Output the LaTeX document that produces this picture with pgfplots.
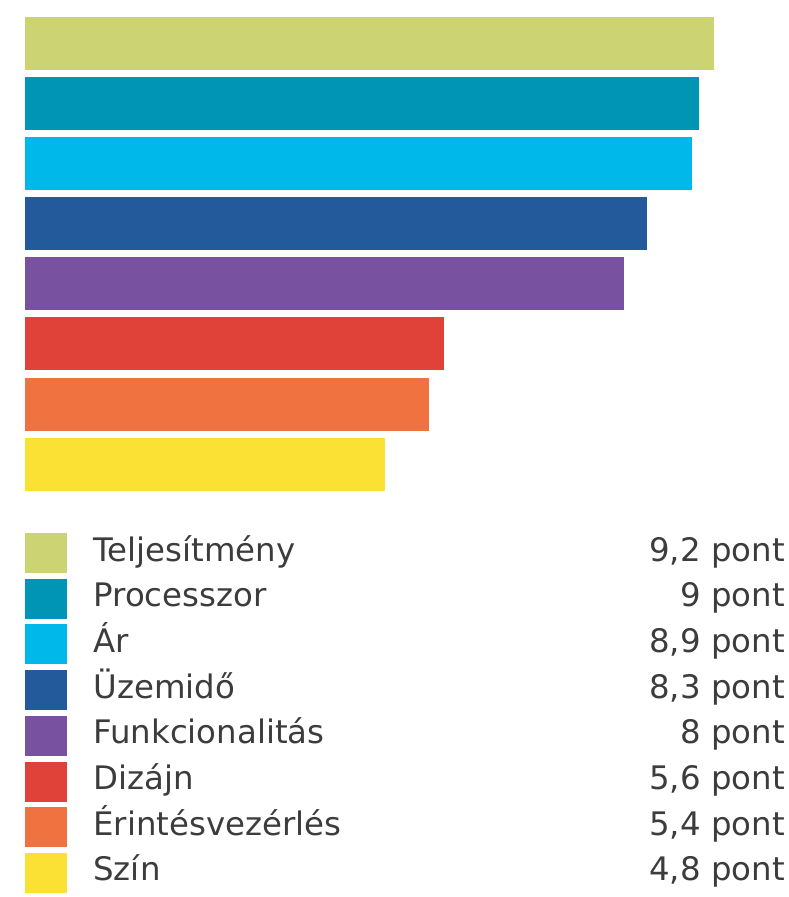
\documentclass[border=0pt]{standalone}
\usepackage{pgfplots}
\pgfplotsset{compat=1.18}
\usepackage{fontspec}
\setmainfont{DejaVu Sans}
\definecolor{c1}{HTML}{CCD373}
\definecolor{c2}{HTML}{0095B5}
\definecolor{c3}{HTML}{00B8EA}
\definecolor{c4}{HTML}{225A9C}
\definecolor{c5}{HTML}{7851A0}
\definecolor{c6}{HTML}{E0423A}
\definecolor{c7}{HTML}{F07240}
\definecolor{c8}{HTML}{FCE135}
\definecolor{txt}{HTML}{3C3C3C}
\tikzset{
  lab/.style={anchor=base west, font=\fontsize{16.2}{18}\selectfont, text=txt, inner sep=0pt},
  val/.style={anchor=base east, font=\fontsize{16.2}{18}\selectfont, text=txt, inner sep=0pt},
}
\begin{document}
\begin{tikzpicture}
\begin{axis}[
  hide axis, scale only axis, width=394pt, height=448.5pt,
  xmin=-0.3338, xmax=10.187, ymin=0, ymax=897, y dir=reverse,
  clip=false, xbar, bar shift=0pt,
]
% main bars
\addplot[fill=c1, draw=none, bar width=26.5pt] coordinates {(9.2,43.5)};
\addplot[fill=c2, draw=none, bar width=26.5pt] coordinates {(9.0,103.5)};
\addplot[fill=c3, draw=none, bar width=26.5pt] coordinates {(8.9,163.5)};
\addplot[fill=c4, draw=none, bar width=26.5pt] coordinates {(8.3,223.5)};
\addplot[fill=c5, draw=none, bar width=26.5pt] coordinates {(8.0,283.5)};
\addplot[fill=c6, draw=none, bar width=26.5pt] coordinates {(5.6,343.5)};
\addplot[fill=c7, draw=none, bar width=26.5pt] coordinates {(5.4,404)};
\addplot[fill=c8, draw=none, bar width=26.5pt] coordinates {(4.8,464)};
% legend squares
\addplot[fill=c1, draw=none, bar width=20pt] coordinates {(0.561,553)};
\addplot[fill=c2, draw=none, bar width=20pt] coordinates {(0.561,598.7)};
\addplot[fill=c3, draw=none, bar width=20pt] coordinates {(0.561,644.4)};
\addplot[fill=c4, draw=none, bar width=20pt] coordinates {(0.561,690.1)};
\addplot[fill=c5, draw=none, bar width=20pt] coordinates {(0.561,735.8)};
\addplot[fill=c6, draw=none, bar width=20pt] coordinates {(0.561,781.5)};
\addplot[fill=c7, draw=none, bar width=20pt] coordinates {(0.561,827.2)};
\addplot[fill=c8, draw=none, bar width=20pt] coordinates {(0.561,872.9)};
% labels
\node[lab] at (axis cs:0.908,561) {Teljesítmény};
\node[lab] at (axis cs:0.908,606.7) {Processzor};
\node[lab] at (axis cs:0.908,652.4) {Ár};
\node[lab] at (axis cs:0.908,698.1) {Üzemidő};
\node[lab] at (axis cs:0.908,743.8) {Funkcionalitás};
\node[lab] at (axis cs:0.908,789.5) {Dizájn};
\node[lab] at (axis cs:0.908,835.2) {Érintésvezérlés};
\node[lab] at (axis cs:0.908,880.9) {Szín};
\node[val] at (axis cs:10.15,561) {9,2 pont};
\node[val] at (axis cs:10.15,606.7) {9 pont};
\node[val] at (axis cs:10.15,652.4) {8,9 pont};
\node[val] at (axis cs:10.15,698.1) {8,3 pont};
\node[val] at (axis cs:10.15,743.8) {8 pont};
\node[val] at (axis cs:10.15,789.5) {5,6 pont};
\node[val] at (axis cs:10.15,835.2) {5,4 pont};
\node[val] at (axis cs:10.15,880.9) {4,8 pont};
\draw[draw=none] (rel axis cs:0,0) rectangle (rel axis cs:1,1);
\end{axis}
\end{tikzpicture}
\end{document}
